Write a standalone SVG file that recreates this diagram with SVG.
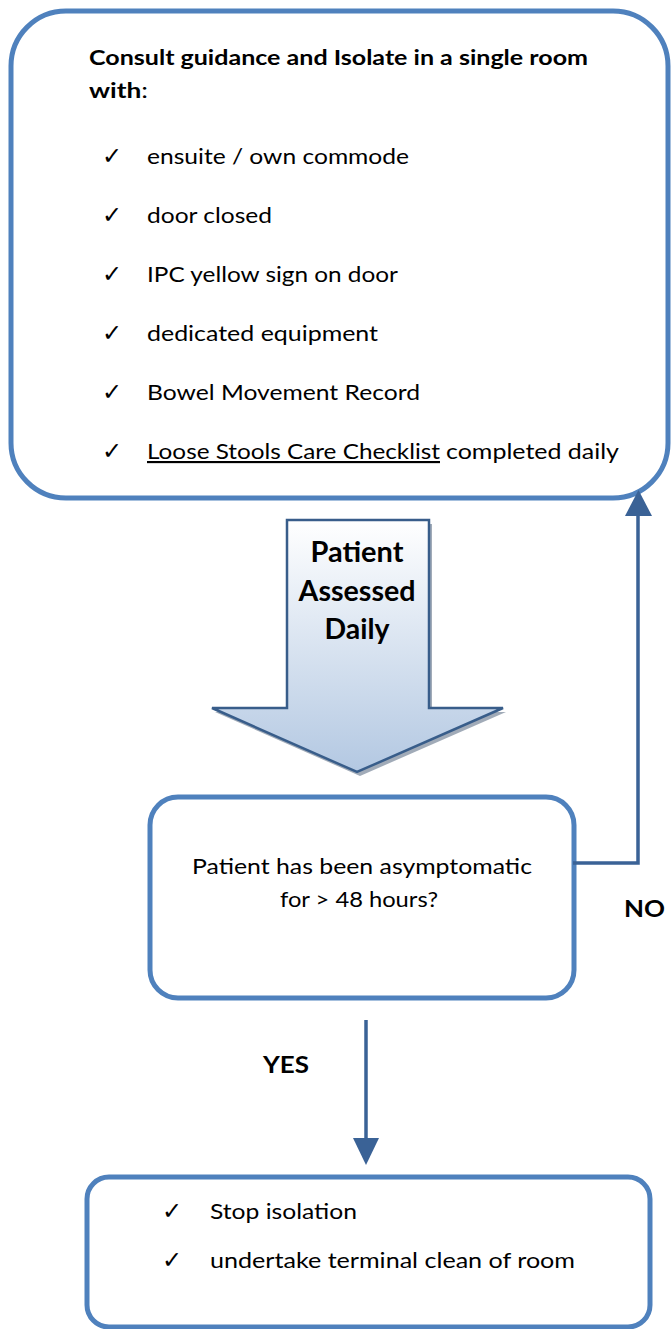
<svg xmlns="http://www.w3.org/2000/svg" width="672" height="1329" viewBox="0 0 672 1329">
  <defs>
    <style>
      .box { fill: #ffffff; stroke: #4F81BD; stroke-width: 5; }
      .t { font-family: Lato, "Liberation Sans", sans-serif; font-size: 21.5px; fill: #000000; }
      .b { font-family: Lato, "Liberation Sans", sans-serif; font-size: 21px; font-weight: bold; fill: #000000; }
      .lbl { font-family: Lato, "Liberation Sans", sans-serif; font-size: 23px; font-weight: bold; fill: #000000; }
      .big { font-family: Lato, "Liberation Sans", sans-serif; font-size: 28px; font-weight: bold; fill: #000000; text-anchor: middle; }
      .chk { font-family: "DejaVu Sans", sans-serif; font-size: 24px; fill: #000000; }
      .conn { fill: none; stroke: #3A6296; stroke-width: 3.5; }
    </style>
    <linearGradient id="arrowGrad" x1="0" y1="0" x2="0" y2="1">
      <stop offset="0" stop-color="#FFFFFF"/>
      <stop offset="1" stop-color="#B3C8E2"/>
    </linearGradient>
  </defs>

  <g id="isolate">
    <rect class="box" x="11" y="11" width="657" height="487" rx="55" ry="55"/>
    <text class="b" x="89" y="65" textLength="499" lengthAdjust="spacingAndGlyphs">Consult guidance and Isolate in a single room</text>
    <text x="89" y="98" textLength="59" lengthAdjust="spacingAndGlyphs"><tspan class="b">with</tspan><tspan class="t">:</tspan></text>
    <text class="chk" x="102" y="164">✓</text>
    <text class="t" x="147" y="164" textLength="262" lengthAdjust="spacingAndGlyphs">ensuite / own commode</text>
    <text class="chk" x="102" y="223">✓</text>
    <text class="t" x="147" y="223" textLength="125" lengthAdjust="spacingAndGlyphs">door closed</text>
    <text class="chk" x="102" y="282">✓</text>
    <text class="t" x="147" y="282" textLength="251" lengthAdjust="spacingAndGlyphs">IPC yellow sign on door</text>
    <text class="chk" x="102" y="341">✓</text>
    <text class="t" x="147" y="341" textLength="231" lengthAdjust="spacingAndGlyphs">dedicated equipment</text>
    <text class="chk" x="102" y="400">✓</text>
    <text class="t" x="147" y="400" textLength="273" lengthAdjust="spacingAndGlyphs">Bowel Movement Record</text>
    <text class="chk" x="102" y="459">✓</text>
    <text class="t" x="147" y="459" textLength="293" lengthAdjust="spacingAndGlyphs" text-decoration="underline">Loose Stools Care Checklist</text>
    <text class="t" x="446" y="459" textLength="173" lengthAdjust="spacingAndGlyphs">completed daily</text>
  </g>

  <g id="assessed">
    <path d="M290,524 L432,524 L432,712 L506,712 L360,776 L215,712 L290,712 Z" fill="#8A96A6" opacity="0.8"/>
    <path d="M287,520 L429,520 L429,708 L503,708 L357,772 L212,708 L287,708 Z" fill="url(#arrowGrad)" stroke="#385D8A" stroke-width="2.5" stroke-linejoin="miter"/>
    <text class="big" x="357" y="562" textLength="93" lengthAdjust="spacingAndGlyphs">Patient</text>
    <text class="big" x="357" y="601" textLength="117" lengthAdjust="spacingAndGlyphs">Assessed</text>
    <text class="big" x="357" y="639" textLength="65" lengthAdjust="spacingAndGlyphs">Daily</text>
  </g>

  <g id="decision">
    <rect class="box" x="150" y="797" width="424" height="201" rx="28" ry="28"/>
    <text class="t" x="362" y="874" text-anchor="middle" textLength="340" lengthAdjust="spacingAndGlyphs">Patient has been asymptomatic</text>
    <text class="t" x="359" y="907" text-anchor="middle" textLength="158" lengthAdjust="spacingAndGlyphs">for &gt; 48 hours?</text>
  </g>

  <g id="stop">
    <rect class="box" x="87" y="1177" width="563" height="150" rx="22" ry="22"/>
    <text class="chk" x="162" y="1219">✓</text>
    <text class="t" x="210" y="1219" textLength="147" lengthAdjust="spacingAndGlyphs">Stop isolation</text>
    <text class="chk" x="162" y="1268">✓</text>
    <text class="t" x="210" y="1268" textLength="365" lengthAdjust="spacingAndGlyphs">undertake terminal clean of room</text>
  </g>

  <g id="connectors">
    <path class="conn" d="M573,863 L638,863 L638,512"/>
    <path d="M625,516 L652,516 L638.5,490 Z" fill="#3A6296"/>
    <line class="conn" x1="366" y1="1020" x2="366" y2="1140"/>
    <path d="M353,1138 L379,1138 L366,1165 Z" fill="#3A6296"/>
    <text class="lbl" x="624" y="917" textLength="41" lengthAdjust="spacingAndGlyphs">NO</text>
    <text class="lbl" x="263" y="1073" textLength="46" lengthAdjust="spacingAndGlyphs">YES</text>
  </g>
</svg>
